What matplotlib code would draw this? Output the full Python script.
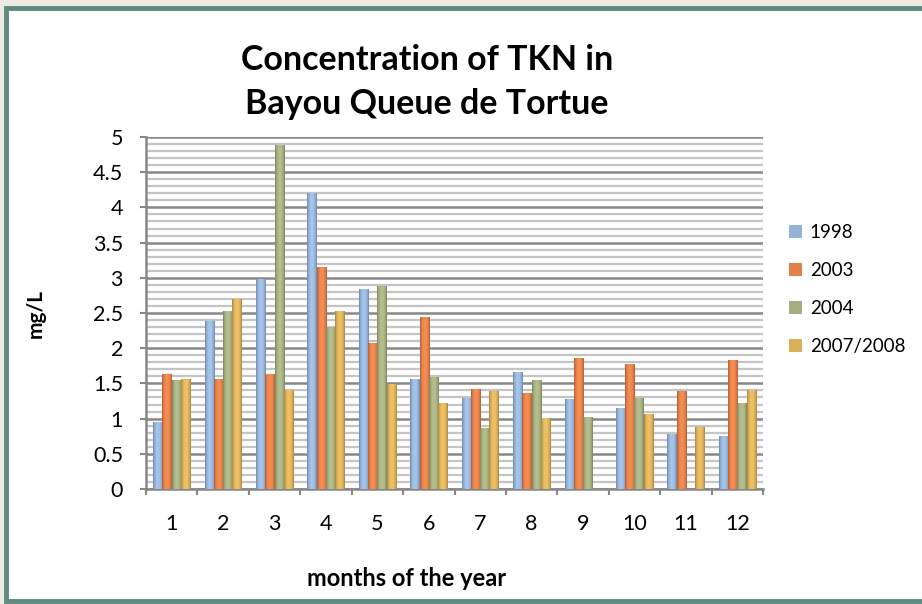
import numpy as np
import matplotlib.pyplot as plt
from matplotlib.patches import Rectangle
from matplotlib.colors import to_rgb
from matplotlib.ticker import MultipleLocator, NullFormatter

plt.rcParams['font.family'] = ['Lato', 'DejaVu Sans']

# datos
meses = ['1', '2', '3', '4', '5', '6', '7', '8', '9', '10', '11', '12']
series = ['1998', '2003', '2004', '2007/2008']
tkn_1998 = [0.94, 2.38, 2.98, 4.20, 2.84, 1.56, 1.28, 1.66, 1.27, 1.15, 0.78, 0.74]
tkn_2003 = [1.62, 1.55, 1.63, 3.14, 2.06, 2.44, 1.41, 1.36, 1.85, 1.77, 1.38, 1.82]
tkn_2004 = [1.545, 2.52, 4.88, 2.30, 2.87, 1.58, 0.865, 1.535, 1.02, 1.28, 0, 1.21]
tkn_2007 = [1.56, 2.69, 1.40, 2.52, 1.48, 1.22, 1.38, 1.0, 0, 1.06, 0.87, 1.40]
colores = ['#95b3d7', '#e2804a', '#a5ae80', '#dbb05a']

fig = plt.figure(figsize=(9.22, 6.04), dpi=100)
fig.patch.set_facecolor('#ecece4')

# marco de la diapositiva
fig.patches.append(Rectangle((6 / 922, 3 / 604), 1.0, 593 / 604, transform=fig.transFigure,
                             facecolor='white', edgecolor='#5f8a80', linewidth=3.5, zorder=-10))

ax = fig.add_axes([146 / 922, 115 / 604, 617 / 922, 352 / 604])
ax.set_facecolor('none')

x = np.arange(len(meses))
ancho = 0.18
datos = [tkn_1998, tkn_2003, tkn_2004, tkn_2007]

# sombreado tipo cilindro
t = np.linspace(0, 1, 32)
perfil = 0.72 + 0.38 * np.sin(np.pi * t) ** 0.6

for i, (vals, nombre, col) in enumerate(zip(datos, series, colores)):
    barras = ax.bar(x + (i - 1.5) * ancho, vals, ancho, color=col, label=nombre,
                    linewidth=0, zorder=3)
    base = np.array(to_rgb(col))
    grad = np.clip(base[None, :] * perfil[:, None], 0, 1)[None, :, :]
    for b in barras:
        if b.get_height() <= 0:
            continue
        ax.imshow(grad, extent=[b.get_x(), b.get_x() + b.get_width(), 0, b.get_height()],
                  aspect='auto', interpolation='bilinear', zorder=4)

ax.set_xlim(-0.5, len(meses) - 0.5)
ax.set_ylim(0, 5)
ax.yaxis.set_minor_locator(MultipleLocator(0.1))
ax.set_yticks(np.arange(0, 5.01, 0.5))
ax.set_yticklabels(['0', '0.5', '1', '1.5', '2', '2.5', '3', '3.5', '4', '4.5', '5'])
ax.grid(axis='y', which='minor', color='#c4c4c4', linewidth=1.6, zorder=0)
ax.grid(axis='y', which='major', color='#878787', linewidth=1.8, zorder=1)

# etiquetas de meses sin marcas, marcas entre grupos
ax.set_xticks(x)
ax.set_xticklabels(meses)
ax.tick_params(axis='x', which='major', length=0, pad=18, labelsize=15.5)
ax.set_xticks(np.arange(-0.5, len(meses), 1), minor=True)
ax.xaxis.set_minor_formatter(NullFormatter())
ax.tick_params(axis='x', which='minor', length=4.5, width=1.5, color='#888888', direction='out')
ax.tick_params(axis='y', which='major', length=4.5, width=1.5, color='#888888', labelsize=15.5, pad=12)
ax.tick_params(axis='y', which='minor', length=0)

for s in ['top', 'right']:
    ax.spines[s].set_visible(False)
for s in ['left', 'bottom']:
    ax.spines[s].set_color('#888888')
    ax.spines[s].set_linewidth(1.8)

ax.set_xlabel('months of the year', fontsize=17, fontweight='bold')
ax.xaxis.set_label_coords(0.423, -0.223)
ax.set_ylabel('mg/L', fontsize=15, fontweight='bold', labelpad=34)

fig.text(427 / 922, 1 - 82 / 604, 'Concentration of TKN in\nBayou Queue de Tortue',
         ha='center', va='center', fontsize=24.5, fontweight='bold', linespacing=1.45)

leg = ax.legend(loc='center left', bbox_to_anchor=(1.015, 0.567), frameon=False,
                fontsize=13.5, handlelength=0.7, handleheight=0.7, handletextpad=0.4,
                labelspacing=1.12)

plt.savefig('out.png', dpi=100, facecolor=fig.get_facecolor())
